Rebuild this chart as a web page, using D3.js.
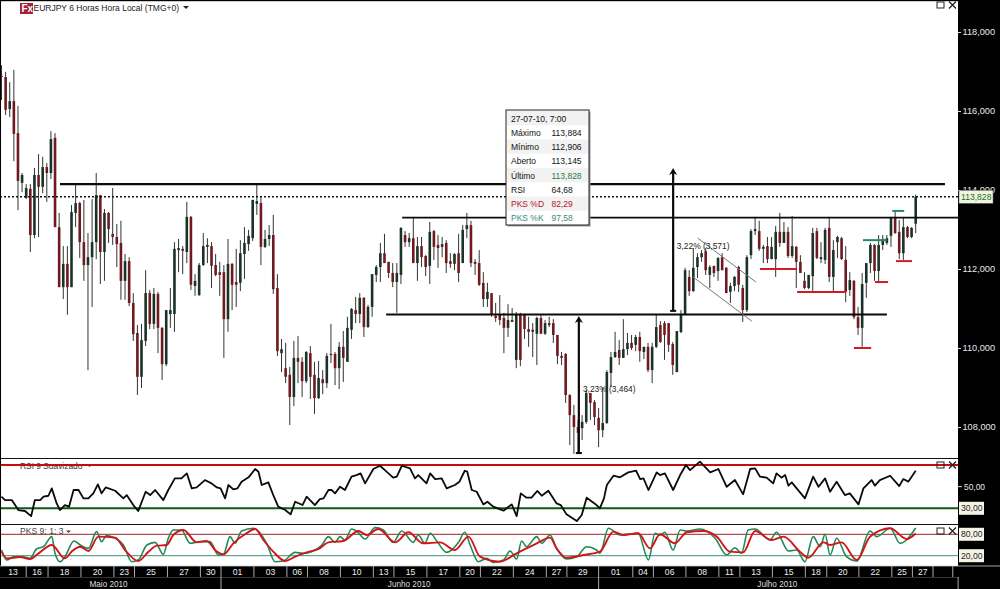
<!DOCTYPE html>
<html><head><meta charset="utf-8">
<script src="https://cdn.jsdelivr.net/npm/d3@7/dist/d3.min.js"></script>
<style>html,body{margin:0;padding:0;background:#fff;overflow:hidden}svg{display:block;font-family:"Liberation Sans",Arial,sans-serif}</style>
</head><body><svg id="c" width="1000" height="589"></svg>
<script>
const highs=[117.16,116.99,116.73,117.04,116.13,114.43,114.15,114.15,114.56,114.91,
114.84,114.68,115.49,115.44,113.42,112.58,112.58,113.62,114.15,113.70,
113.75,112.91,113.77,114.43,113.87,113.52,113.44,114.05,113.14,113.22,
112.38,112.30,111.39,110.58,110.61,111.97,111.47,111.52,111.42,110.53,
110.96,111.52,112.68,112.76,112.58,113.70,113.34,111.87,112.15,112.91,
112.78,112.68,112.38,112.18,112.10,112.76,112.15,112.51,112.73,113.06,
112.99,113.75,114.15,113.82,112.99,113.11,113.37,111.87,110.23,110.13,
109.52,110.18,110.30,109.77,109.92,110.05,109.65,109.67,109.44,109.87,
110.61,109.90,110.15,110.43,110.79,111.01,111.29,111.39,111.29,111.09,
111.87,112.10,112.66,112.89,112.18,112.15,112.15,113.06,112.96,112.91,
113.32,112.81,112.81,112.35,113.19,112.99,112.86,112.81,112.73,112.40,
112.40,112.89,113.11,113.42,113.22,112.25,112.48,111.92,111.65,111.39,
111.14,111.34,110.89,111.11,111.01,110.91,110.89,110.84,110.79,110.63,
110.79,110.84,110.71,110.79,110.73,110.33,109.90,109.87,108.83,108.56,
108.18,108.30,108.94,108.86,108.68,108.48,109.01,109.44,109.90,110.41,
110.20,110.73,110.38,110.33,110.33,110.41,110.03,110.13,110.13,110.84,
110.68,110.68,110.63,110.15,110.43,110.96,112.03,111.97,112.53,112.40,
112.48,112.53,112.10,112.08,112.30,112.40,112.05,111.65,111.82,112.08,
111.60,112.35,113.01,113.32,113.22,112.61,112.81,112.81,113.09,113.42,
113.19,113.06,113.34,112.58,112.35,111.92,111.85,113.04,113.04,112.68,
113.04,113.32,112.73,112.84,112.81,112.58,111.92,111.72,111.04,111.90,
112.15,112.66,112.63,112.86,112.86,112.86,113.32,113.49,113.24,113.29,
113.09,113.06,113.884];
const lows=[116.28,115.90,115.85,114.73,113.49,113.95,113.77,112.43,112.78,112.81,
113.92,113.70,114.28,113.06,111.54,111.24,110.84,111.54,113.06,112.28,
111.70,109.44,111.04,112.25,111.62,111.70,112.66,112.61,112.05,111.22,
111.22,111.06,110.18,108.81,108.99,110.05,110.48,110.48,109.87,109.19,
109.54,110.51,110.41,111.92,111.87,112.15,111.47,111.32,111.32,112.08,
112.15,111.52,111.82,111.32,109.75,110.41,110.96,111.04,111.44,111.75,
112.46,112.71,113.37,112.10,112.53,112.58,111.37,109.80,109.39,109.11,
108.05,108.53,109.11,108.76,109.11,108.71,108.33,108.71,108.83,108.99,
109.62,109.06,108.96,109.14,109.65,110.23,110.63,110.63,110.28,110.51,
110.79,111.67,111.67,112.15,111.77,111.54,110.89,111.62,112.56,112.56,
112.15,111.70,112.05,111.82,111.62,112.23,112.03,112.30,111.90,112.03,
111.97,111.67,112.15,112.78,112.05,111.85,111.57,111.04,111.04,110.79,
110.66,110.58,109.87,110.28,110.66,109.49,109.54,110.23,110.03,109.77,
109.57,110.36,110.33,110.53,110.13,109.59,109.57,108.61,107.54,107.32,
107.34,107.67,108.08,108.18,108.05,107.49,107.74,108.08,109.01,109.75,
109.57,109.75,109.82,109.95,109.92,109.65,109.72,109.39,109.11,110.00,
110.13,109.70,109.90,109.32,109.39,110.38,110.89,111.32,111.42,111.77,
112.18,111.85,111.52,111.80,111.70,111.97,111.39,111.14,111.44,111.42,
110.66,110.91,112.25,112.86,112.46,112.15,112.15,112.25,111.80,112.56,
112.66,112.28,112.28,111.52,111.90,111.49,111.49,111.44,112.25,112.15,
112.13,111.67,111.44,112.28,112.23,111.16,111.32,110.73,110.33,110.03,
111.27,111.90,111.70,111.67,112.48,112.61,112.56,112.89,112.25,112.23,
112.78,112.78,112.906];
const opens=[116.89,116.86,116.05,116.25,115.44,114.18,113.80,114.03,112.86,114.38,
114.08,114.58,114.43,115.32,113.06,111.54,112.13,111.54,113.42,113.67,
112.68,112.10,112.30,112.68,113.87,112.43,113.42,112.89,112.81,112.66,
111.70,112.20,111.14,110.38,109.27,110.18,111.39,110.61,111.37,110.51,
109.59,110.86,110.86,112.48,112.51,112.43,113.32,111.57,111.34,112.10,
112.56,112.58,112.10,111.92,111.92,110.73,112.13,111.67,111.65,112.38,
112.63,112.78,113.65,113.67,112.56,112.76,112.86,111.52,109.87,109.49,
109.32,108.76,109.75,109.65,109.16,109.87,109.32,108.73,109.21,109.11,
109.85,109.85,109.49,110.03,109.65,110.46,110.96,110.86,111.27,110.53,
111.04,111.85,112.05,112.40,112.18,111.90,111.67,111.85,112.86,112.68,
112.78,112.15,112.58,112.33,112.08,112.96,112.61,112.56,112.66,112.20,
112.13,112.40,112.15,113.01,113.11,112.18,112.15,111.65,111.24,111.39,
110.81,110.84,110.76,110.51,110.71,109.70,110.84,110.84,110.48,110.41,
110.36,110.76,110.36,110.63,110.63,110.33,109.80,109.85,108.81,108.30,
108.00,107.97,108.13,108.86,108.63,108.23,107.92,108.10,109.37,109.77,
109.95,109.75,109.97,110.13,110.08,110.28,109.90,110.03,109.44,110.03,
110.58,110.63,110.63,110.10,109.39,110.40,110.84,111.80,111.44,112.05,
112.30,112.45,111.85,112.08,111.95,112.30,112.03,111.42,111.57,112.05,
111.52,110.96,112.35,112.96,112.96,112.51,112.58,112.25,112.25,112.94,
112.66,112.94,112.33,112.56,112.18,111.70,111.52,111.82,112.96,112.25,
112.23,113.04,111.80,112.68,112.78,112.23,111.47,111.70,110.78,110.51,
111.65,112.15,112.61,111.95,112.61,112.66,112.84,113.32,112.94,112.40,
113.06,112.81,113.145];
const closes=[116.86,116.03,116.25,115.42,114.23,114.38,114.05,112.86,114.38,114.08,
114.58,114.43,115.29,113.06,111.54,112.13,111.54,113.44,113.67,112.68,
112.10,112.30,112.68,113.87,112.43,113.42,113.01,112.81,112.63,111.70,
112.20,111.14,110.35,109.27,110.20,111.39,110.61,111.37,110.51,109.59,
110.96,110.96,112.51,112.53,112.46,113.32,111.60,111.70,112.10,112.58,
112.61,112.08,111.85,111.85,110.73,112.13,111.60,111.60,112.40,112.66,
112.84,113.75,113.72,112.56,112.76,112.86,111.49,109.92,109.97,109.27,
108.76,109.75,109.65,109.16,109.90,109.27,108.73,109.24,109.11,109.80,
109.82,109.49,110.03,109.75,110.51,110.99,110.86,111.27,110.53,111.04,
111.87,112.05,112.40,112.15,111.90,111.67,111.90,113.04,112.68,112.78,
112.15,112.58,112.30,112.05,112.94,112.56,112.53,112.63,112.15,112.13,
112.38,111.90,112.99,113.11,112.15,112.13,111.60,111.24,111.42,110.84,
110.76,110.71,110.51,110.71,110.66,110.84,109.70,110.48,110.41,110.46,
110.76,110.36,110.63,110.58,110.33,109.80,109.75,108.81,108.30,108.00,
107.85,108.13,108.86,108.61,108.25,107.92,108.10,109.39,109.77,109.90,
109.75,109.97,110.13,110.00,110.28,109.92,110.03,109.44,110.03,110.53,
110.15,110.33,110.08,109.57,110.43,110.84,111.97,111.44,112.03,112.30,
112.40,111.97,112.05,111.90,112.28,111.97,111.39,111.57,111.80,111.60,
110.96,112.30,112.96,113.01,112.51,112.56,112.25,112.56,112.94,112.66,
112.94,112.33,112.58,112.18,111.90,111.52,111.85,112.91,112.28,112.30,
112.99,111.80,112.48,112.81,112.25,111.42,111.72,110.78,110.51,111.62,
112.15,112.61,111.95,112.61,112.76,112.78,113.29,112.91,112.40,113.06,
112.81,113.04,113.828];

const rsiIdx=[0,.85,2.5,4.1,5.7,7.2,8.1,9.4,10.2,11.4,12.2,13.4,14.2,15.4,16.4,17.5,18.7,19.9,21.1,22.3,23.4,24.3,25.3,27.6,29.6,30.4,32,33.2,35,36.1,37.3,39.3,40.5,42.1,43.7,45,46.2,47.4,49.4,51,52.3,53.2,54.3,55.1,56.3,57.3,58.3,60,61.6,62.4,63.2,64.8,66,67.2,68.9,70.2,71.3,73.1,74.1,76.1,77.3,78.2,79.4,80.2,81,82.2,83.4,85,86.2,87.2,88.3,90.3,91.9,93.1,95.1,96,97.2,99.2,100.4,101.2,103.2,104.1,105.3,106.9,108.1,110.1,111.2,112.5,113.1,114.2,115.4,117,118,119.4,121.9,123.9,125.1,126.1,127.5,128.7,130.1,131.2,132.8,134.8,135.8,137.2,139.7,140.9,142.1,144.5,145.3,146.3,147,148.6,150.2,152.2,154.1,155.1,155.9,157.1,159.1,159.9,161.1,163.1,164.8,166.2,167.2,169.6,172.1,174.1,176.1,178.1,180.1,181.8,183,184.2,185.8,187.4,188.2,189.4,190.3,191.1,191.9,195.1,197.1,198.4,200,201.2,202.8,204.8,206,208.1,209.3,211.3,212.1,213.3,215.8,218,219,220.2,222];
const rsiValues=[40.7,37.6,37.6,28.4,27.5,22.8,37.6,37.6,40.7,41.6,48.4,34.5,28.4,33,31.5,46.9,46.9,39.2,39.2,43.8,52.1,43.8,49.3,46.2,39.2,42.2,33,27.5,45.3,42.2,46.9,37.6,46.9,57.6,57.6,62.3,48.4,49.3,56.1,53,49.3,48.4,39.2,51.5,47.5,48.4,54.6,58.6,66.3,63.8,51.5,53.9,42.2,31.5,28.4,24.4,36.1,33,40.7,33,38.5,39.2,46.9,46.9,43.8,49.9,46.9,59.2,60.7,62.3,53,66.3,69.3,65.3,58.3,59.2,69.3,66.9,57.6,60.7,53,62.3,57,57.6,48.4,51.5,54.6,64.7,63.8,46.9,45.3,33.6,36.1,31.5,27.8,33.6,22.8,43.8,39.8,39.8,46,41.6,46.2,34.5,33,24.4,18.2,23.8,39.8,33,29.9,39.2,51.5,60.1,58.6,63.2,64.7,57,57.6,46.9,63.2,60.7,62.3,46.9,60.7,70,65.3,73.1,63.2,66.3,49.9,56.1,42.9,66.3,66.9,59.2,58.3,53,62.3,58.3,60.7,50.9,53.9,39.2,59.2,49.9,57.6,45.3,54.6,42.2,43.8,33.6,48.4,56.1,50.9,56.1,60.1,50.5,57,54.6,64.68];

const kIdx=[0,1.3,2.9,5.3,6.9,8.5,10.2,12.2,13,14.2,15.4,17.6,19.1,21.1,23.1,24.3,25.5,27.6,29.6,31.6,33.2,35.3,37.3,39.3,40.5,41.7,43.7,45.8,48.2,50.6,52.7,53.9,55.5,56.7,58.3,61.2,64.4,66.4,68.4,71.3,73.3,75.3,77.8,79.4,81,82.2,83.4,85,86.2,88.3,90.7,92.7,95.1,97.2,100,101.2,102.8,104.1,105.7,108.1,111,112.5,113.8,115.8,117.8,119.4,121.9,123.5,125.1,126.3,127.5,130,131.2,133.2,134.8,137.2,139.7,142.1,144.5,145.3,147.4,150.2,154.6,157.1,158.7,159.9,161.1,163.1,164.8,166.4,169.6,173.3,176.1,178.1,179.7,181.3,183,186.6,188.2,191.1,193.1,195.1,197.1,198.8,200,201.2,202.8,205.2,207.7,210.9,212.5,215.8,218.2,222];
const kValues=[35.9,7.8,17.2,17.2,12.5,38.8,45.3,73.4,26.6,3.1,17.2,61.3,50,40.6,87.5,59.4,76.3,68.8,50,3.1,7.8,50,57.5,23.8,68.8,92.2,92.2,54.7,59.4,59.4,21.9,23.8,73.4,54.7,89.4,96.9,54.7,3.1,5,29.4,26.6,31.3,50,73.4,57.5,73.4,64.1,95,89.4,66.9,98.8,92.2,57.5,89.4,57.5,78.1,54.7,82.8,61.3,29.4,57.5,85.6,50,3.1,12.5,1.3,7.8,33.1,10.6,61.3,45.3,73.4,54.7,78.1,40.6,10.6,17.2,45.3,35.9,26.6,96.9,78.1,82.8,7.8,82.8,78.1,85.6,35.9,92.2,89.4,95,68.8,21.9,42.5,26.6,92.2,95,64.1,85.6,33.1,35.9,3.1,73.4,45.3,80,21.9,68.8,17.2,5,89.4,73.4,96.9,54.7,97.58];
const dIdx=[0,1.3,4.5,6.9,9,12.2,15.4,17,19.1,21.1,23.5,27.6,30,33.2,35.7,37.7,40.1,41.7,44.2,47.4,49.8,52.3,53.9,56.3,59.5,61.6,63.6,66,68.9,71.3,74.1,77,79.4,83,86.7,88.7,91.5,95.6,98.8,102.4,106.5,110.1,113.4,116.2,121,125.1,130,133.2,134.8,137.2,141.3,145.3,148.6,151,154.6,157.5,159.9,163.5,166.4,170.4,173.7,176.9,180.1,183,187,189.9,193.9,195.9,199.6,201.2,204,207.7,210.9,215.8,219.8,222];
const dValues=[31.3,12.5,16.3,10.6,26.6,50,12.5,31.3,45.3,33.1,73.4,70.6,35.9,5,31.3,48.1,50,78.1,92.2,57.5,61.3,31.3,23.8,54.7,82.8,95,64.1,31.3,5,17.2,29.4,38.8,57.5,61.3,89.4,78.1,95,57.5,85.6,54.7,57.5,35.9,73.4,17.2,3.1,26.6,54.7,70.6,40.6,14.4,21.9,31.3,87.5,78.1,82.8,40.6,80,54.7,85.6,89.4,73.4,31.3,29.4,89.4,64.1,73.4,31.3,14.4,57.5,50,57.5,7.8,73.4,96.9,66.9,82.29];

const priceTicks=[118,116,114,112,110,108];
const dayLabels=["13","16","18","20","23","25","27","30","01","03","06","08","10","13","15","17","20","22","24","27","29","01","04","06","08","11","13","15","18","20","22","25","27"];
const dayBreaks=[-0.4,6,11.3,19.3,27.3,32.3,40.3,48.3,53.3,61.3,69.3,74.3,82.3,90.3,95.3,103.3,111.3,116.3,124.3,132.3,137.3,145,153.3,158.3,166.2,174.2,179.3,187.2,195.2,200.4,208.2,216.2,221.2,226.2,231];
const monthLabels=["Maio 2010","Junho 2010","Julho 2010"];
const monthCentres=[26,99,188.4];
const monthBreaks=[53.3,145,232.3];
const tipRows=[["27-07-10, 7:00",""],["Máximo","113,884"],["Mínimo","112,906"],["Aberto","113,145"],["Último","113,828"],["RSI","64,68"],["PKS %D","82,29"],["PKS %K","97,58"]];
const tipColA=["#111","#111","#111","#111","#111","#111","#b3122e","#3c8a78"];
const tipColB=["#111","#111","#111","#111","#2a7a3e","#111","#b3122e","#3c8a78"];
const blackLevels=[[14.2,229.1,114.15],[97.3,232.3,113.30],[93.4,215,110.85]];
const redMarks=[[184.2,193.2,112],[193.2,205.1,111.42],[207,211.2,110],[212.1,215.3,111.67],[217.2,221.1,112.2]];
const greenMarks=[[209.2,215,112.73],[216.3,219.2,113.47]];
const channels=[[169.1,112.78,183.2,111.67],[167.9,111.8,182.2,110.68]];
const arrows=[[140.2,107.34,110.81],[163.1,110.94,114.56]];
const arrowNotes=[[141.2,108.96,"3,23% (3,464)"],[164,112.58,"3,22% (3,571)"]];

const svg=d3.select("#c");
const x=d3.scaleLinear().domain([0,222]).range([1.5,915.7]);
const y=d3.scaleLinear().domain([118,108]).range([32,427]);
const yR=d3.scaleLinear().domain([70,30]).range([465,508.3]);
const yP=d3.scaleLinear().domain([80,20]).range([534.3,555.7]);
const plotR=958;

svg.append("rect").attr("width",1000).attr("height",589).attr("fill","#fff");
const defs=svg.append("defs");
defs.append("clipPath").attr("id","main").append("rect").attr("x",0).attr("y",0).attr("width",plotR).attr("height",458);
defs.append("clipPath").attr("id","rsi").append("rect").attr("x",0).attr("y",460).attr("width",plotR).attr("height",63);
defs.append("clipPath").attr("id","pks").append("rect").attr("x",0).attr("y",525).attr("width",plotR).attr("height",41);

/* main panel */
const main=svg.append("g").attr("clip-path","url(#main)");
const idx=d3.range(highs.length);
main.append("g").selectAll("line").data(idx).join("line")
  .attr("x1",d=>x(d)).attr("x2",d=>x(d)).attr("y1",d=>y(highs[d])).attr("y2",d=>y(lows[d]))
  .attr("stroke","#333").attr("stroke-width",1);
main.append("g").selectAll("rect").data(idx).join("rect")
  .attr("x",d=>x(d)-1.3).attr("width",2.6)
  .attr("y",d=>y(Math.max(opens[d],closes[d])))
  .attr("height",d=>Math.max(1.2,Math.abs(y(opens[d])-y(closes[d]))))
  .attr("fill",d=>closes[d]>=opens[d]?"#1a3329":"#701a1f");

main.append("line").attr("x1",0).attr("x2",plotR).attr("y1",y(closes[closes.length-1])).attr("y2",y(closes[closes.length-1]))
  .attr("stroke","#111").attr("stroke-width",1.6).attr("stroke-dasharray","2 2");
main.append("g").selectAll("line").data(blackLevels).join("line")
  .attr("x1",d=>x(d[0])).attr("x2",d=>x(d[1])).attr("y1",d=>y(d[2])).attr("y2",d=>y(d[2]))
  .attr("stroke","#0a0a0a").attr("stroke-width",(d,i)=>i===0?2.2:1.9);
main.append("g").selectAll("line").data(channels).join("line")
  .attr("x1",d=>x(d[0])).attr("x2",d=>x(d[2])).attr("y1",d=>y(d[1])).attr("y2",d=>y(d[3]))
  .attr("stroke","#777").attr("stroke-width",1);
main.append("g").selectAll("line").data(redMarks).join("line")
  .attr("x1",d=>x(d[0])).attr("x2",d=>x(d[1])).attr("y1",d=>y(d[2])).attr("y2",d=>y(d[2]))
  .attr("stroke","#d11a24").attr("stroke-width",2);
main.append("g").selectAll("line").data(greenMarks).join("line")
  .attr("x1",d=>x(d[0])).attr("x2",d=>x(d[1])).attr("y1",d=>y(d[2])).attr("y2",d=>y(d[2]))
  .attr("stroke","#1f8a6a").attr("stroke-width",2);
const arr=main.append("g").selectAll("g").data(arrows).join("g");
arr.append("line").attr("x1",d=>x(d[0])).attr("x2",d=>x(d[0])).attr("y1",d=>y(d[1])).attr("y2",d=>y(d[2])+3)
  .attr("stroke","#0a0a0a").attr("stroke-width",2.2);
arr.append("line").attr("x1",d=>x(d[0])-3).attr("x2",d=>x(d[0])+3).attr("y1",d=>y(d[1])).attr("y2",d=>y(d[1]))
  .attr("stroke","#0a0a0a").attr("stroke-width",2);
arr.append("path").attr("d",d=>{const a=x(d[0]),b=y(d[2]);return `M${a},${b}L${a+4},${b+7}L${a},${b+5}L${a-4},${b+7}Z`;}).attr("fill","#0a0a0a");
main.append("g").selectAll("text").data(arrowNotes).join("text")
  .attr("x",d=>x(d[0])).attr("y",d=>y(d[1])+3).text(d=>d[2]).attr("font-size",8.4).attr("fill","#222");

/* header */
svg.append("rect").attr("x",20).attr("y",3).attr("width",13).attr("height",11).attr("fill","#a32035");
svg.append("text").attr("x",21.5).attr("y",12).text("Fx").attr("font-size",10).attr("font-weight","bold").attr("fill","#fff");
svg.append("text").attr("x",33.5).attr("y",11).text("EURJPY 6 Horas Hora Local (TMG+0)").attr("font-size",8.5).attr("fill","#222");
svg.append("path").attr("d","M183,6h6l-3,3z").attr("fill","#222");

/* tooltip */
const tx=506,ty=110,rh=14.25;
svg.append("rect").attr("x",tx+1.5).attr("y",ty+1.5).attr("width",83).attr("height",115).attr("fill","#999");
svg.append("rect").attr("x",tx).attr("y",ty).attr("width",83).attr("height",115).attr("fill","#fff").attr("stroke","#222").attr("stroke-width",1);
const tr=svg.append("g").selectAll("g").data(tipRows).join("g").attr("transform",(d,i)=>`translate(${tx},${ty+1+i*rh})`);
tr.filter((d,i)=>i%2===0).append("rect").attr("x",1).attr("width",81).attr("height",rh).attr("fill","#f2f2f2");
tr.append("text").attr("x",5).attr("y",10.5).text(d=>d[0]).attr("font-size",8.5).attr("fill",(d,i)=>tipColA[i]);
tr.append("text").attr("x",45.5).attr("y",10.5).text(d=>d[1]).attr("font-size",8.5).attr("fill",(d,i)=>tipColB[i]);

/* RSI panel */
const line=(xs,ys,sc,curve)=>d3.line().curve(curve).x((d,i)=>x(xs[i])).y((d,i)=>sc(ys[i]))(ys);
svg.append("line").attr("x1",0).attr("x2",plotR).attr("y1",458.5).attr("y2",458.5).attr("stroke","#111").attr("stroke-width",1.2);
svg.append("text").attr("x",20).attr("y",468.5).text("RSI 9 Suavizado").attr("font-size",8.4).attr("fill","#333");
svg.append("path").attr("d","M87,464.5h5l-2.5,2.5z").attr("fill","#333");
const rg=svg.append("g").attr("clip-path","url(#rsi)");
rg.append("line").attr("x1",0).attr("x2",plotR).attr("y1",yR(70)).attr("y2",yR(70)).attr("stroke","#c30d12").attr("stroke-width",2);
rg.append("line").attr("x1",0).attr("x2",plotR).attr("y1",yR(30)).attr("y2",yR(30)).attr("stroke","#0c5a12").attr("stroke-width",2);
rg.append("path").attr("d",line(rsiIdx,rsiValues,yR,d3.curveLinear)).attr("fill","none").attr("stroke","#0a0a0a").attr("stroke-width",1.8).attr("stroke-linejoin","round");

/* PKS panel */
svg.append("line").attr("x1",0).attr("x2",plotR).attr("y1",524.5).attr("y2",524.5).attr("stroke","#111").attr("stroke-width",1.2);
const pg=svg.append("g").attr("clip-path","url(#pks)");
pg.append("line").attr("x1",0).attr("x2",plotR).attr("y1",yP(80)).attr("y2",yP(80)).attr("stroke","#9c2226").attr("stroke-width",1);
pg.append("line").attr("x1",0).attr("x2",plotR).attr("y1",yP(20)).attr("y2",yP(20)).attr("stroke","#3f8f70").attr("stroke-width",1);
pg.append("path").attr("d",line(kIdx,kValues,yP,d3.curveMonotoneX)).attr("fill","none").attr("stroke","#1f8a55").attr("stroke-width",1.6).attr("stroke-linejoin","round");
pg.append("path").attr("d",line(dIdx,dValues,yP,d3.curveMonotoneX)).attr("fill","none").attr("stroke","#d4141a").attr("stroke-width",1.9).attr("stroke-linejoin","round");
svg.append("text").attr("x",20).attr("y",534).text("PKS 9; 1; 3").attr("font-size",8.6).attr("fill","#444");
svg.append("path").attr("d","M66,530.5h5l-2.5,2.5z").attr("fill","#444");

/* right black panel */
svg.append("rect").attr("x",plotR).attr("y",0).attr("width",42).attr("height",589).attr("fill","#000");
svg.append("rect").attr("x",0).attr("y",0).attr("width",1000).attr("height",1.2).attr("fill","#000");
svg.append("rect").attr("x",0).attr("y",0).attr("width",1).attr("height",566).attr("fill","#000");
const axR=d3.axisRight(y).tickValues(priceTicks).tickSize(3).tickPadding(1.5)
  .tickFormat(d=>d3.format(".3f")(d).replace(".",","));
const ax=svg.append("g").attr("transform",`translate(${plotR},0)`).call(axR);
ax.select(".domain").remove();
ax.selectAll("line").attr("stroke","#ddd");
ax.selectAll("text").attr("fill","#e8e8e8").attr("font-size",9.2).attr("font-family","'Liberation Sans',Arial,sans-serif").attr("dy","0.32em");

const lastY=y(closes[closes.length-1]);
svg.append("rect").attr("x",959).attr("y",lastY-6.5).attr("width",34).attr("height",13).attr("fill","#eef5df").attr("stroke","#6a6a6a").attr("stroke-width",.6);
svg.append("text").attr("x",961).attr("y",lastY+3).text("113,828").attr("font-size",8.6).attr("fill","#1f6a28");

svg.append("line").attr("x1",plotR).attr("x2",962).attr("y1",yR(50)).attr("y2",yR(50)).attr("stroke","#ddd");
svg.append("text").attr("x",964).attr("y",yR(50)+3).text("50,00").attr("font-size",8.4).attr("fill","#e8e8e8");
const boxes=[[yR(30),"30,00"],[yP(80),"80,00"],[yP(20),"20,00"]];
const bx=svg.append("g").selectAll("g").data(boxes).join("g");
bx.append("rect").attr("x",959).attr("y",d=>d[0]-6.5).attr("width",25).attr("height",13).attr("fill","#f6f3e6");
bx.append("text").attr("x",961).attr("y",d=>d[0]+3).text(d=>d[1]).attr("font-size",8.6).attr("fill","#222");

/* window buttons */
[5,465,531].forEach(v=>{
  svg.append("rect").attr("x",937).attr("y",v-3).attr("width",7).attr("height",6).attr("fill","none").attr("stroke","#222").attr("stroke-width",1);
  svg.append("path").attr("d",`M949,${v-3.5}l7,7M956,${v-3.5}l-7,7`).attr("stroke","#222").attr("stroke-width",1.3);
});

/* time axis */
svg.append("rect").attr("x",0).attr("y",566).attr("width",plotR).attr("height",23).attr("fill","#000");
svg.append("line").attr("x1",0).attr("x2",1000).attr("y1",566).attr("y2",566).attr("stroke","#ccc").attr("stroke-width",.8);
svg.append("line").attr("x1",0).attr("x2",plotR).attr("y1",577.5).attr("y2",577.5).attr("stroke","#333").attr("stroke-width",1);
svg.append("g").selectAll("line").data(dayBreaks.slice(1)).join("line")
  .attr("x1",d=>x(d)).attr("x2",d=>x(d)).attr("y1",566).attr("y2",577).attr("stroke","#aaa").attr("stroke-width",1);
svg.append("g").selectAll("text").data(dayLabels).join("text")
  .attr("x",(d,i)=>x((dayBreaks[i]+dayBreaks[i+1])/2)).attr("y",575).attr("text-anchor","middle")
  .text(d=>d).attr("font-size",8.6).attr("fill","#eee");
svg.append("g").selectAll("line.m").data(monthBreaks).join("line")
  .attr("x1",d=>x(d)).attr("x2",d=>x(d)).attr("y1",577).attr("y2",589).attr("stroke","#aaa").attr("stroke-width",1);
svg.append("g").selectAll("text").data(monthLabels).join("text")
  .attr("x",(d,i)=>x(monthCentres[i])).attr("y",586.5).attr("text-anchor","middle")
  .text(d=>d).attr("font-size",8.2).attr("fill","#ddd");
</script></body></html>
